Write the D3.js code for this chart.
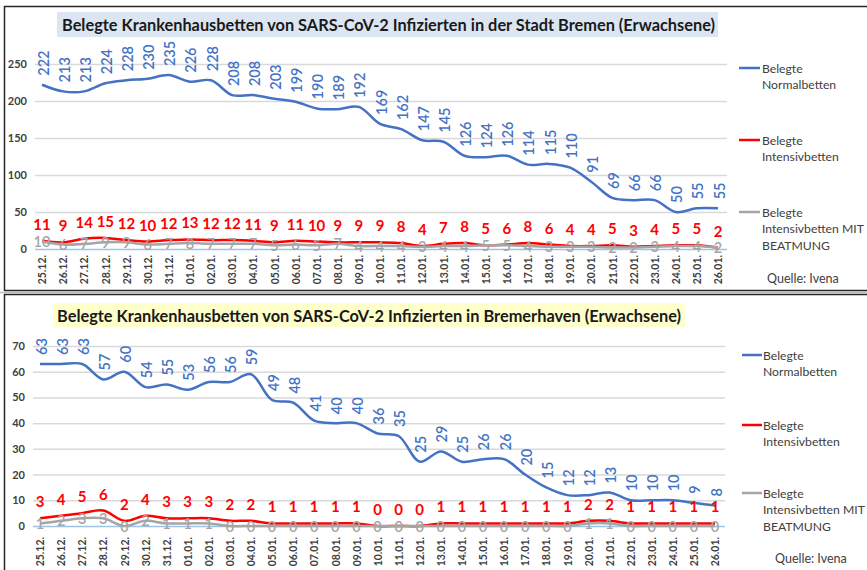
<!DOCTYPE html>
<html><head><meta charset="utf-8">
<script src="https://cdn.jsdelivr.net/npm/d3@7"></script>
<style>body{margin:0;background:#fff}svg{display:block}</style>
</head><body>
<svg id="c" width="867" height="570"></svg>
<script>
const dates = ["25.12.","26.12.","27.12.","28.12.","29.12.","30.12.","31.12.","01.01.","02.01.","03.01.","04.01.","05.01.","06.01.","07.01.","08.01.","09.01.","10.01.","11.01.","12.01.","13.01.","14.01.","15.01.","16.01.","17.01.","18.01.","19.01.","20.01.","21.01.","22.01.","23.01.","24.01.","25.01.","26.01."];
const bremenNormal = [222,213,213,224,228,230,235,226,228,208,208,203,199,190,189,192,169,162,147,145,126,124,126,114,115,110,91,69,66,66,50,55,55];
const bremenIntensiv = [11,9,14,15,12,10,12,13,12,12,11,9,11,10,9,9,9,8,4,7,8,5,6,8,6,4,4,5,3,4,5,5,2];
const bremenBeatmung = [10,6,7,9,9,6,7,8,7,7,7,5,6,5,7,4,4,4,3,4,4,5,5,4,3,3,3,2,2,3,4,4,2];
const bhvNormal = [63,63,63,57,60,54,55,53,56,56,59,49,48,41,40,40,36,35,25,29,25,26,26,20,15,12,12,13,10,10,10,9,8];
const bhvIntensiv = [3,4,5,6,2,4,3,3,3,2,2,1,1,1,1,1,0,0,0,1,1,1,1,1,1,1,2,2,1,1,1,1,1];
const bhvBeatmung = [1,2,3,3,0,2,1,1,1,0,0,0,0,0,0,0,0,0,0,0,0,0,0,0,0,0,1,1,0,0,0,0,0];
const bremenTicks = [0,50,100,150,200,250];
const bhvTicks = [0,10,20,30,40,50,60,70];
const titles = ["Belegte Krankenhausbetten von SARS-CoV-2 Infizierten in der Stadt Bremen (Erwachsene)",
                "Belegte Krankenhausbetten von SARS-CoV-2 Infizierten in Bremerhaven (Erwachsene)"];
const legendLines = [["Belegte","Normalbetten"],["Belegte","Intensivbetten"],["Belegte","Intensivbetten MIT","BEATMUNG"]];
const source = "Quelle: Ivena";

const FONT = "Lato, 'Open Sans', sans-serif";
const colors = ["#4472c4","#ff0000","#a5a5a5"];
const svg = d3.select("#c");

// panel frames
svg.append("line").attr("x1",0).attr("x2",867).attr("y1",292.5).attr("y2",292.5).attr("stroke","#bfbfbf").attr("stroke-width",1.5);
svg.append("rect").attr("x",4.5).attr("y",6.5).attr("width",870).attr("height",284).attr("fill","none").attr("stroke","#262626").attr("stroke-width",1.5);
svg.append("rect").attr("x",4.5).attr("y",294.5).attr("width",870).attr("height",290).attr("fill","none").attr("stroke","#262626").attr("stroke-width",1.5);

const panels = [
  {title:titles[0], bg:"#dce6f2", box:[57,12,661,25], tx:62, tw:653,
   series:[bremenNormal,bremenIntensiv,bremenBeatmung], ticks:bremenTicks,
   x:[42,718], y:[249,64], ymax:250, gx:[35,727], xlab:255,
   leg:{x1:739,x2:760,tx:762,ys:[68,140,212]}, src:[767,278]},
  {title:titles[1], bg:"#ffffcc", box:[53,303,632,24], tx:57, tw:624,
   series:[bhvNormal,bhvIntensiv,bhvBeatmung], ticks:bhvTicks,
   x:[40,715], y:[526,346], ymax:70, gx:[33,725], xlab:537,
   leg:{x1:742,x2:762,tx:763,ys:[355,425,493]}, src:[775,558]}
];

panels.forEach(p => {
  const g = svg.append("g");
  const x = d3.scalePoint().domain(dates).range(p.x);
  const y = d3.scaleLinear().domain([0,p.ymax]).range(p.y);

  // title
  g.append("rect").attr("x",p.box[0]).attr("y",p.box[1]).attr("width",p.box[2]).attr("height",p.box[3]).attr("fill",p.bg);
  g.append("text").attr("x",p.tx).attr("y",p.box[1]+p.box[3]/2).attr("dominant-baseline","central")
    .attr("font-family",FONT).attr("font-weight","bold").attr("font-size",17.5).attr("fill","#1a1a1a")
    .attr("textLength",p.tw).attr("lengthAdjust","spacingAndGlyphs").text(p.title);

  // grid
  const ya = d3.axisLeft(y).tickValues(p.ticks).tickSize(-(p.gx[1]-p.gx[0])).tickPadding(8);
  const ag = g.append("g").attr("transform",`translate(${p.gx[0]},0)`).call(ya);
  ag.select(".domain").remove();
  ag.selectAll(".tick line").attr("stroke",d=>d===0?"#9dc3e6":"#d9d9d9").attr("stroke-width",1.5);
  ag.selectAll(".tick text").attr("font-family",FONT).attr("font-weight","bold").attr("font-size",11).attr("fill","#404040");

  // x axis labels
  const xa = d3.axisBottom(x).tickSize(0).tickPadding(0);
  const xg = g.append("g").attr("transform",`translate(0,${p.xlab})`).call(xa);
  xg.select(".domain").remove();
  xg.selectAll(".tick text").attr("transform","rotate(-90)").attr("text-anchor","end").attr("dy","0.35em").attr("x",0).attr("y",0)
    .attr("font-family",FONT).attr("font-weight","bold").attr("font-size",10.5).attr("fill","#404040");

  const line = d3.line().x((d,i)=>x(dates[i])).y(d=>y(d)).curve(d3.curveCatmullRom.alpha(0.5));
  p.series.forEach((s,k)=>{
    g.append("path").datum(s).attr("d",line).attr("fill","none").attr("stroke",colors[k]).attr("stroke-width",2.5).attr("stroke-linejoin","round");
  });
  // labels: blue
  g.selectAll(null).data(p.series[0]).enter().append("text")
    .attr("transform",(d,i)=>`translate(${x(dates[i])+1},${y(d)-9}) rotate(-90)`)
    .attr("dominant-baseline","central").attr("text-anchor","start")
    .attr("font-family",FONT).attr("font-size",14.5).attr("font-weight","600").attr("fill","#4472c4").text(d=>d);
  // red
  g.selectAll(null).data(p.series[1]).enter().append("text")
    .attr("x",(d,i)=>x(dates[i])).attr("y",d=>y(d)-11).attr("text-anchor","middle")
    .attr("font-family",FONT).attr("font-size",15).attr("font-weight","bold").attr("fill","#ff0000").text(d=>d);
  // gray
  g.selectAll(null).data(p.series[2]).enter().append("text")
    .attr("x",(d,i)=>x(dates[i])).attr("y",d=>y(d)).attr("text-anchor","middle").attr("dominant-baseline","central")
    .attr("font-family",FONT).attr("font-size",14.5).attr("font-weight","600").attr("fill","#a5a5a5").text(d=>d);

  // legend
  legendLines.forEach((ls,k)=>{
    const yy = p.leg.ys[k];
    g.append("line").attr("x1",p.leg.x1).attr("x2",p.leg.x2).attr("y1",yy).attr("y2",yy).attr("stroke",colors[k]).attr("stroke-width",2.5);
    ls.forEach((t,j)=>{
      g.append("text").attr("x",p.leg.tx).attr("y",yy+j*16.5).attr("dominant-baseline","central")
        .attr("font-family",FONT).attr("font-size",12.2).attr("fill","#404040").text(t);
    });
  });
  g.append("text").attr("x",p.src[0]).attr("y",p.src[1]).attr("dominant-baseline","central")
    .attr("font-family",FONT).attr("font-size",12.5).attr("fill","#404040").text(source);
});
</script>
</body></html>
